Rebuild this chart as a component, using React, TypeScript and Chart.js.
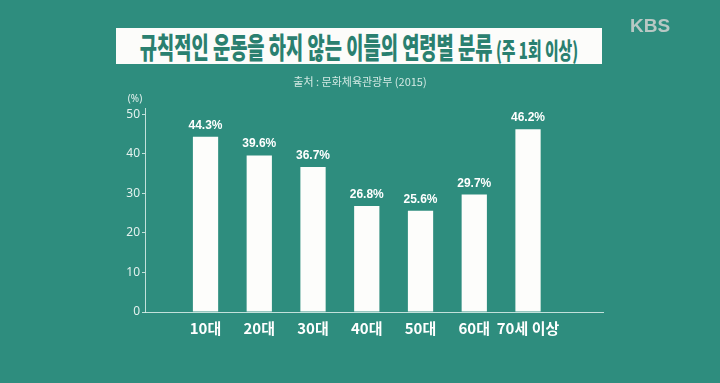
import React, { useEffect, useRef } from "react";
import { Chart, registerables } from "chart.js";

Chart.register(...registerables);

const categories = ["10대", "20대", "30대", "40대", "50대", "60대", "70세 이상"];
const values = [44.3, 39.6, 36.7, 26.8, 25.6, 29.7, 46.2];
const yTicks = [0, 10, 20, 30, 40, 50];

const BG = "#2e8d7e";
const AXIS = "rgba(220,240,235,0.85)";
const LIGHT = "#e4f1ee";

const valueLabels = {
  id: "valueLabels",
  afterDatasetsDraw(chart: any) {
    const ctx = chart.ctx;
    const meta = chart.getDatasetMeta(0);
    ctx.save();
    ctx.fillStyle = "#ffffff";
    ctx.font = "bold 12px 'Liberation Sans', Arial, sans-serif";
    ctx.textAlign = "center";
    ctx.textBaseline = "alphabetic";
    meta.data.forEach((bar: any, i: number) => {
      ctx.fillText(values[i].toFixed(1) + "%", bar.x, bar.y - 8);
    });
    ctx.restore();
  },
};

export default function App() {
  const ref = useRef<HTMLCanvasElement | null>(null);

  useEffect(() => {
    document.body.style.margin = "0";
    document.body.style.background = BG;
    const chart = new Chart(ref.current as HTMLCanvasElement, {
      type: "bar",
      data: {
        datasets: [
          {
            data: values.map((v, i) => ({ x: i, y: v })),
            backgroundColor: "#fdfdfb",
            borderWidth: 0,
            barPercentage: 0.47,
            categoryPercentage: 1,
          },
        ],
      },
      options: {
        animation: false,
        responsive: false,
        maintainAspectRatio: false,
        layout: { padding: { left: 0, right: 117, top: 108, bottom: 0 } },
        plugins: { legend: { display: false }, tooltip: { enabled: false } },
        scales: {
          x: {
            type: "linear",
            offset: false,
            min: -1.126,
            max: 7.395,
            grid: { display: false, offset: false },
            border: { display: true, color: AXIS, width: 1 },
            afterBuildTicks: (scale: any) => {
              scale.ticks = categories.map((_, i) => ({ value: i }));
            },
            afterFit: (scale: any) => {
              scale.height = 71;
            },
            ticks: {
              autoSkip: false,
              maxRotation: 0,
              padding: -1,
              color: "#ffffff",
              font: { family: "'Noto Sans CJK KR', sans-serif", size: 15, weight: "bold" },
              callback: (v: any) => categories[v] ?? "",
            },
          },
          y: {
            min: 0,
            max: 51.6,
            grid: { drawOnChartArea: false, drawTicks: true, tickLength: 3, color: AXIS },
            border: { display: true, color: AXIS, width: 1 },
            afterBuildTicks: (scale: any) => {
              scale.ticks = yTicks.map((v) => ({ value: v }));
            },
            afterFit: (scale: any) => {
              scale.width = 145;
            },
            ticks: {
              padding: 2,
              color: LIGHT,
              font: { family: "'Noto Sans', sans-serif", size: 12 },
            },
          },
        },
      },
      plugins: [valueLabels],
    } as any);
    return () => chart.destroy();
  }, []);

  return (
    <div
      style={{
        position: "fixed",
        left: 0,
        top: 0,
        width: 720,
        height: 383,
        background: BG,
        overflow: "hidden",
        fontFamily: "'Noto Sans CJK KR', 'Noto Sans', sans-serif",
      }}
    >
      <canvas ref={ref} width={720} height={383} style={{ position: "absolute", left: 0, top: 0 }} />
      <div
        style={{
          position: "absolute",
          left: 116,
          top: 28,
          width: 486,
          height: 36,
          background: "#fcfcfa",
          overflow: "hidden",
        }}
      >
        <span
          style={{
            position: "absolute",
            left: "50%",
            top: 0,
            display: "inline-block",
            whiteSpace: "nowrap",
            transform: "translateX(-50%) scaleX(0.645)",
            transformOrigin: "center",
            color: "#2a8070",
            fontWeight: 900,
            lineHeight: "36px",
            letterSpacing: 0,
          }}
        >
          <span style={{ fontSize: 29 }}>규칙적인 운동을 하지 않는 이들의 연령별 분류</span>
          <span style={{ fontSize: 23 }}> (주 1회 이상)</span>
        </span>
      </div>
      <div
        style={{
          position: "absolute",
          left: 0,
          top: 72,
          width: 720,
          textAlign: "center",
          fontSize: 11,
          lineHeight: "18px",
          color: "#d3e9e3",
        }}
      >
        출처 : 문화체육관광부 (2015)
      </div>
      <div
        style={{
          position: "absolute",
          left: 124,
          top: 91,
          width: 22,
          textAlign: "center",
          fontSize: 10,
          lineHeight: "14px",
          color: LIGHT,
          fontFamily: "'Noto Sans', sans-serif",
        }}
      >
        (%)
      </div>
      <div
        style={{
          position: "absolute",
          left: 630,
          top: 13,
          fontSize: 19,
          lineHeight: "26px",
          fontWeight: "bold",
          color: "rgba(200,206,204,0.9)",
          fontFamily: "'Liberation Sans', Arial, sans-serif",
        }}
      >
        KBS
      </div>
    </div>
  );
}
